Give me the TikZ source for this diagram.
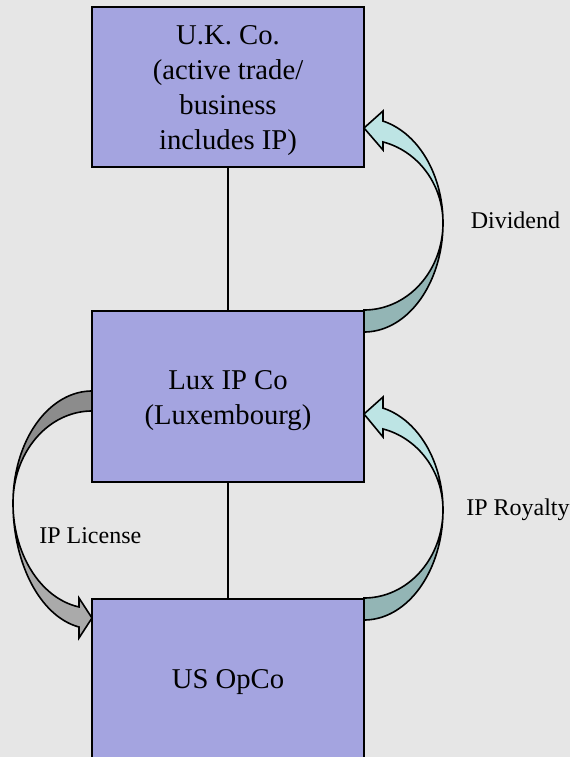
\documentclass[tikz,border=0pt]{standalone}
\usepackage{fontspec}
\setmainfont{Liberation Serif}
\definecolor{bgc}{RGB}{230,230,230}
\definecolor{boxc}{RGB}{164,164,224}
\definecolor{tealdark}{RGB}{147,181,181}
\definecolor{teallight}{RGB}{189,228,228}
\definecolor{graydark}{RGB}{140,140,140}
\definecolor{graylight}{RGB}{170,170,170}
\tikzset{
  entity/.style={draw=black, line width=1.5pt, fill=boxc, minimum width=204pt, inner sep=0pt},
  etext/.style={align=center, font=\fontsize{21.5}{26.25}\selectfont, inner sep=0pt},
  link/.style={line width=1.5pt},
  lbl/.style={font=\fontsize{18}{21}\selectfont, anchor=base west, inner sep=0pt},
  blk/.style={draw=black, line width=1.2pt, line join=miter, smooth, samples=60},
}
\begin{document}
\begin{tikzpicture}[x=0.75pt,y=-0.75pt]
\fill[bgc] (0,0) rectangle (570,757);
\useasboundingbox (0,0) rectangle (570,757);

\node[entity, minimum height=120pt] (uk) at (228,86.7) {};
\node[entity, minimum height=128.25pt] (lux) at (228,396.2) {};
\node[entity, minimum height=120pt] (us) at (228,679) {};
\node[etext] (ukt) at ([yshift=-3pt]uk.center) {U.K. Co.\\(active trade/\\business\\includes IP)};
\node[etext] (luxt) at ([yshift=-3pt]lux.center) {Lux IP Co\\(Luxembourg)};
\node[etext] (ust) at ([yshift=-2.5pt]us.center) {US OpCo};

\draw[link] (uk.south) -- (lux.north);
\draw[link] (lux.south) -- (us.north);

% Dividend arrow
\filldraw[blk, fill=tealdark] plot[domain=90:0] ({364+79*cos(\x)},{223+109*sin(\x)})
  -- plot[domain=0:90] ({364+79*cos(\x)},{223+87*sin(\x)}) -- cycle;
\filldraw[blk, fill=teallight] plot[domain=0:-76.08] ({364+79*cos(\x)},{223+105*sin(\x)})
  -- (383,111) -- (364,128) -- (383,150)
  -- plot[domain=-76.08:0] ({364+79*cos(\x)},{223+83.5*sin(\x)}) -- cycle;

% IP Royalty arrow
\filldraw[blk, fill=tealdark] plot[domain=90:0] ({364+79*cos(\x)},{510+110*sin(\x)})
  -- plot[domain=0:90] ({364+79*cos(\x)},{510+88*sin(\x)}) -- cycle;
\filldraw[blk, fill=teallight] plot[domain=0:-76.08] ({364+79*cos(\x)},{510+105*sin(\x)})
  -- (383,397) -- (364,414) -- (383,437)
  -- plot[domain=-76.08:0] ({364+79*cos(\x)},{510+83.5*sin(\x)}) -- cycle;

% IP License arrow
\filldraw[blk, fill=graydark] plot[domain=270:180] ({92+79*cos(\x)},{503+112*sin(\x)})
  -- plot[domain=180:270] ({92+79*cos(\x)},{503+92*sin(\x)}) -- cycle;
\filldraw[blk, fill=graylight] plot[domain=180:99.47] ({92+79*cos(\x)},{503+125.7*sin(\x)})
  -- (79,638) -- (92,618) -- (79,598)
  -- plot[domain=99.47:180] ({92+79*cos(\x)},{503+105.4*sin(\x)}) -- cycle;

\node[lbl] (div) at (470.5,228) {Dividend};
\node[lbl] (roy) at (466,515) {IP Royalty};
\node[lbl] (lic) at (39,543) {IP License};
\end{tikzpicture}
\end{document}
